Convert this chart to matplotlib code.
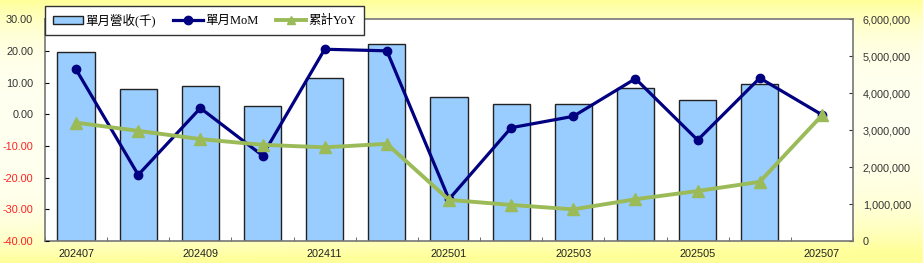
import numpy as np
import matplotlib
matplotlib.use("Agg")
import matplotlib.pyplot as plt
from matplotlib.ticker import FuncFormatter, FixedLocator
from matplotlib.lines import Line2D
from matplotlib.patches import Patch

months = ["202407", "202408", "202409", "202410", "202411", "202412", "202501",
          "202502", "202503", "202504", "202505", "202506", "202507"]
revenue = [5110000, 4120000, 4210000, 3670000, 4420000, 5330000, 3890000,
           3720000, 3700000, 4140000, 3820000, 4250000, np.nan]
mom = [14.2, -19.1, 2.0, -13.0, 20.6, 20.1, -26.8, -4.2, -0.6, 11.3, -8.1, 11.5, -0.1]
yoy = [-2.6, -5.2, -7.8, -9.6, -10.4, -9.3, -27.0, -28.6, -30.0, -26.8, -24.2, -21.3, -0.3]

W, H = 923, 263
fig = plt.figure(figsize=(W / 100, H / 100), dpi=100)

# yellow background: strong at top/bottom edges, pale in the middle
bg = fig.add_axes([0, 0, 1, 1])
yy, xx = np.mgrid[0:1:263j, 0:1:923j]
a = (np.abs(yy - 0.5) / 0.5) ** 4
a = a + 0.35 * np.clip(yy - 0.5, 0, None) * 2 * xx
a = np.clip(a, 0, 1)
c0 = np.array([1.0, 1.0, 0.94])
c1 = np.array([1.0, 1.0, 0.60])
img = c0[None, None, :] * (1 - a[..., None]) + c1[None, None, :] * a[..., None]
bg.imshow(img, aspect="auto", extent=[0, 1, 0, 1], origin="upper")
bg.axis("off")

tick_font = "Liberation Sans"
x = np.arange(len(months))

ax = fig.add_axes([45 / W, (H - 241) / H, (853 - 45) / W, 221.5 / H])
ax2 = ax.twinx()

ax.set_facecolor("white")
ax.bar(x, revenue, width=0.6, color="#99CCFF", edgecolor="#222222", linewidth=1.0, zorder=2)
ax.set_ylim(0, 6000000)
ax.set_xlim(-0.5, len(months) - 0.5)
ax.yaxis.tick_right()
ax.yaxis.set_major_locator(FixedLocator(np.arange(0, 6000001, 1000000)))
ax.yaxis.set_major_formatter(FuncFormatter(lambda v, p: f"{int(v):,}"))
ax.tick_params(axis="y", direction="in", length=3, pad=7, labelsize=7.8, colors="#333333")
for lab in ax.get_yticklabels():
    lab.set_fontfamily(tick_font)

ax.set_xticks(np.arange(-0.5, len(months), 1), minor=True)
ax.set_xticks(x[::2])
ax.set_xticklabels(months[::2], fontsize=7.8, fontfamily=tick_font, color="#222222")
ax.tick_params(axis="x", which="major", length=0, pad=5.5)
ax.tick_params(axis="x", which="minor", direction="in", length=3, color="#555555")
for s in ax.spines.values():
    s.set_color("#777777")
    s.set_linewidth(1.2)

ax2.plot(x, mom, color="#000080", lw=2.3, marker="o", ms=6, zorder=3)
ax2.plot(x, yoy, color="#9BBB59", lw=2.8, marker="^", ms=8, zorder=4)
ax2.set_ylim(-40, 30)
ax2.yaxis.tick_left()
ax2.yaxis.set_major_locator(FixedLocator(np.arange(-40, 31, 10)))
ax2.yaxis.set_major_formatter(FuncFormatter(lambda v, p: f"{v:.2f}"))
ax2.tick_params(axis="y", direction="in", length=3, pad=8.5, labelsize=7.8)
for lab, v in zip(ax2.get_yticklabels(), np.arange(-40, 31, 10)):
    lab.set_fontfamily(tick_font)
    lab.set_color("#FF2020" if v < 0 else "#333333")
for s in ax2.spines.values():
    s.set_visible(False)

handles = [
    Patch(facecolor="#99CCFF", edgecolor="#222222", linewidth=1.0),
    Line2D([], [], color="#000080", lw=2.3, marker="o", ms=6),
    Line2D([], [], color="#9BBB59", lw=2.8, marker="^", ms=6),
]
labels = ["單月營收(千)", "單月MoM", "累計YoY"]
leg = ax2.legend(handles, labels, loc="upper left", bbox_to_anchor=(0, 1.062),
                 ncol=3, frameon=True, fancybox=False, borderaxespad=0,
                 prop={"family": ["Liberation Serif", "Noto Sans CJK TC"], "size": 9},
                 handlelength=2.4, handleheight=0.6, columnspacing=1.4,
                 handletextpad=0.2, borderpad=0.6, framealpha=1)
leg.get_frame().set_edgecolor("#333333")
leg.get_frame().set_linewidth(1.0)
leg.set_zorder(10)

fig.savefig("out.png", dpi=100)
